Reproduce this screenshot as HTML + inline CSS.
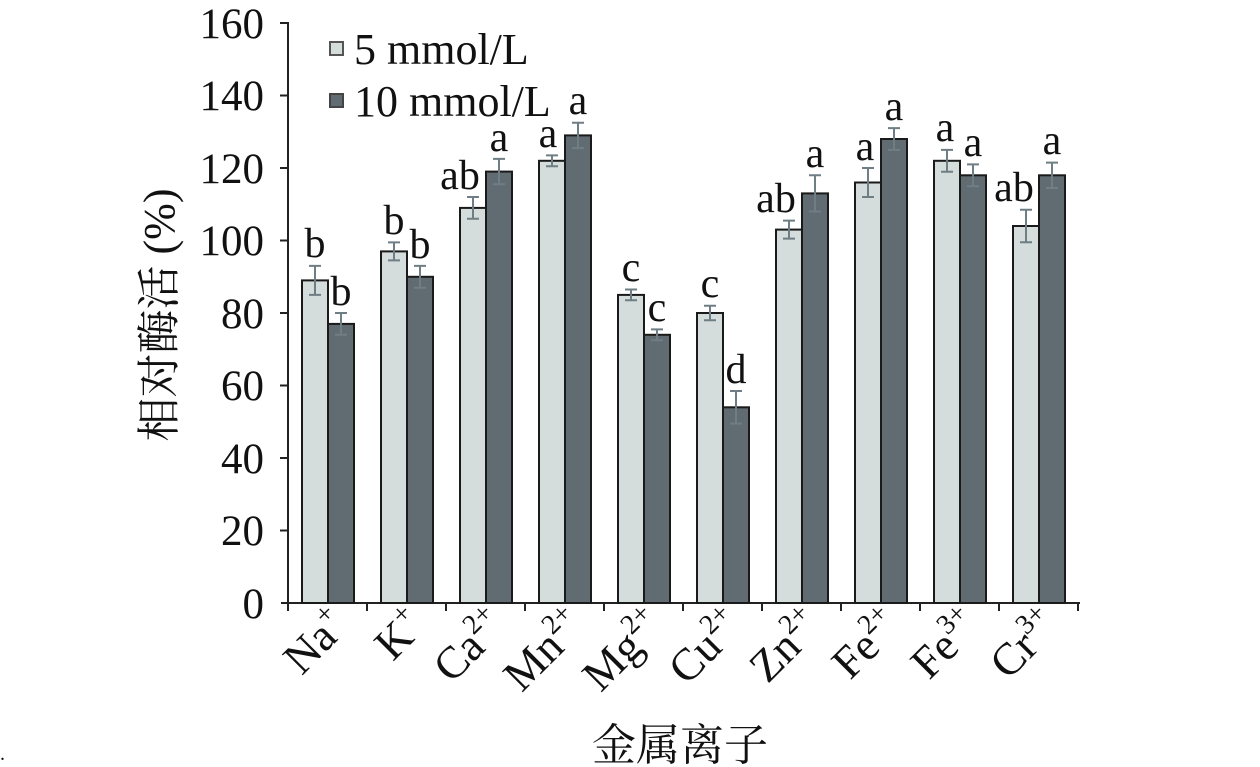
<!DOCTYPE html>
<html><head><meta charset="utf-8"><style>
html,body{margin:0;padding:0;background:#fff;}
svg{display:block;}
text{font-family:"Liberation Serif","Noto Serif CJK SC",serif;fill:#111;}
.cj{font-family:"Liberation Serif","Noto Serif CJK SC","Noto Sans CJK SC",serif;}
</style></head><body>
<svg width="1260" height="767" viewBox="0 0 1260 767" xmlns="http://www.w3.org/2000/svg">
<g stroke="#222" stroke-width="2" fill="none">
<line x1="288" y1="22" x2="288" y2="604"/>
<line x1="281" y1="603" x2="1080" y2="603"/>
<line x1="280" y1="23" x2="288" y2="23"/>
<line x1="280" y1="95.5" x2="288" y2="95.5"/>
<line x1="280" y1="168" x2="288" y2="168"/>
<line x1="280" y1="240.5" x2="288" y2="240.5"/>
<line x1="280" y1="313" x2="288" y2="313"/>
<line x1="280" y1="385.5" x2="288" y2="385.5"/>
<line x1="280" y1="458" x2="288" y2="458"/>
<line x1="280" y1="530.5" x2="288" y2="530.5"/>
<line x1="288" y1="603" x2="288" y2="611"/>
<line x1="367" y1="603" x2="367" y2="611"/>
<line x1="446" y1="603" x2="446" y2="611"/>
<line x1="525" y1="603" x2="525" y2="611"/>
<line x1="604" y1="603" x2="604" y2="611"/>
<line x1="683" y1="603" x2="683" y2="611"/>
<line x1="762" y1="603" x2="762" y2="611"/>
<line x1="841" y1="603" x2="841" y2="611"/>
<line x1="920" y1="603" x2="920" y2="611"/>
<line x1="999" y1="603" x2="999" y2="611"/>
<line x1="1078" y1="603" x2="1078" y2="611"/>
</g>
<g font-size="43" text-anchor="end">
<text x="264" y="38">160</text>
<text x="264" y="110">140</text>
<text x="264" y="183">120</text>
<text x="264" y="255">100</text>
<text x="264" y="328">80</text>
<text x="264" y="400">60</text>
<text x="264" y="473">40</text>
<text x="264" y="545">20</text>
<text x="264" y="618">0</text>
</g>
<g stroke="#1a1a1a" stroke-width="2">
<rect x="302" y="280.4" width="26" height="322.6" fill="#d4dcdc"/><rect x="328" y="323.9" width="26" height="279.1" fill="#606b72"/>
<rect x="381" y="251.4" width="26" height="351.6" fill="#d4dcdc"/><rect x="407" y="276.8" width="26" height="326.2" fill="#606b72"/>
<rect x="460" y="207.9" width="26" height="395.1" fill="#d4dcdc"/><rect x="486" y="171.6" width="26" height="431.4" fill="#606b72"/>
<rect x="539" y="160.8" width="26" height="442.2" fill="#d4dcdc"/><rect x="565" y="135.4" width="26" height="467.6" fill="#606b72"/>
<rect x="618" y="294.9" width="26" height="308.1" fill="#d4dcdc"/><rect x="644" y="334.8" width="26" height="268.2" fill="#606b72"/>
<rect x="697" y="313" width="26" height="290" fill="#d4dcdc"/><rect x="723" y="407.3" width="26" height="195.7" fill="#606b72"/>
<rect x="776" y="229.6" width="26" height="373.4" fill="#d4dcdc"/><rect x="802" y="193.4" width="26" height="409.6" fill="#606b72"/>
<rect x="855" y="182.5" width="26" height="420.5" fill="#d4dcdc"/><rect x="881" y="139" width="26" height="464" fill="#606b72"/>
<rect x="934" y="160.8" width="26" height="442.2" fill="#d4dcdc"/><rect x="960" y="175.3" width="26" height="427.7" fill="#606b72"/>
<rect x="1013" y="226" width="26" height="377" fill="#d4dcdc"/><rect x="1039" y="175.3" width="26" height="427.7" fill="#606b72"/>
</g>
<g stroke="#6f7e84" stroke-width="2" fill="none">
<path d="M315 265.9V294.9M309 265.9H321M309 294.9H321"/>
<path d="M341 313V334.8M335 313H347M335 334.8H347"/>
<path d="M394 242.4V260.4M388 242.4H400M388 260.4H400"/>
<path d="M420 265.9V287.7M414 265.9H426M414 287.7H426"/>
<path d="M473 197V218.8M467 197H479M467 218.8H479"/>
<path d="M499 158.9V184.3M493 158.9H505M493 184.3H505"/>
<path d="M552 155.4V166.2M546 155.4H558M546 166.2H558"/>
<path d="M578 122.7V148.1M572 122.7H584M572 148.1H584"/>
<path d="M631 289.5V300.3M625 289.5H637M625 300.3H637"/>
<path d="M657 329.4V340.2M651 329.4H663M651 340.2H663"/>
<path d="M710 305.7V320.3M704 305.7H716M704 320.3H716"/>
<path d="M736 391V423.6M730 391H742M730 423.6H742"/>
<path d="M789 220.6V238.6M783 220.6H795M783 238.6H795"/>
<path d="M815 175.3V211.5M809 175.3H821M809 211.5H821"/>
<path d="M868 168V197M862 168H874M862 197H874"/>
<path d="M894 128.1V149.9M888 128.1H900M888 149.9H900"/>
<path d="M947 149.9V171.7M941 149.9H953M941 171.7H953"/>
<path d="M973 164.4V186.2M967 164.4H979M967 186.2H979"/>
<path d="M1026 209.7V242.3M1020 209.7H1032M1020 242.3H1032"/>
<path d="M1052 162.6V188M1046 162.6H1058M1046 188H1058"/>
</g>
<g font-size="42" text-anchor="middle">
<text x="315" y="257">b</text><text x="341" y="305">b</text>
<text x="394" y="234">b</text><text x="420" y="258">b</text>
<text x="460" y="189">ab</text><text x="499" y="151">a</text>
<text x="548" y="147">a</text><text x="578" y="114">a</text>
<text x="631" y="281">c</text><text x="657" y="321">c</text>
<text x="710" y="297">c</text><text x="736" y="383">d</text>
<text x="776" y="212">ab</text><text x="815" y="167">a</text>
<text x="865" y="160">a</text><text x="894" y="120">a</text>
<text x="945" y="141">a</text><text x="973" y="156">a</text>
<text x="1014" y="201">ab</text><text x="1052" y="154">a</text>
</g>
<rect x="330" y="42" width="13" height="13" fill="#d4dcdc" stroke="#555" stroke-width="2"/>
<rect x="330" y="94" width="13" height="13" fill="#606b72" stroke="#444" stroke-width="2"/>
<text x="354" y="64" font-size="44">5 mmol/L</text>
<text x="354" y="116" font-size="44">10 mmol/L</text>
<g font-size="45" text-anchor="end">
<text transform="translate(350,628) rotate(-45)">Na<tspan font-size="28" dy="-19">+</tspan></text>
<text transform="translate(427,628) rotate(-45)">K<tspan font-size="28" dy="-19">+</tspan></text>
<text transform="translate(508,628) rotate(-45)">Ca<tspan font-size="28" dy="-19">2+</tspan></text>
<text transform="translate(587,628) rotate(-45)">Mn<tspan font-size="28" dy="-19">2+</tspan></text>
<text transform="translate(666,628) rotate(-45)">Mg<tspan font-size="28" dy="-19">2+</tspan></text>
<text transform="translate(745,628) rotate(-45)">Cu<tspan font-size="28" dy="-19">2+</tspan></text>
<text transform="translate(824,628) rotate(-45)">Zn<tspan font-size="28" dy="-19">2+</tspan></text>
<text transform="translate(903,628) rotate(-45)">Fe<tspan font-size="28" dy="-19">2+</tspan></text>
<text transform="translate(982,628) rotate(-45)">Fe<tspan font-size="28" dy="-19">3+</tspan></text>
<text transform="translate(1061,628) rotate(-45)">Cr<tspan font-size="28" dy="-19">3+</tspan></text>
</g>
<text class="cj" x="680" y="760" font-size="44" text-anchor="middle">金属离子</text>
<text class="cj" transform="translate(174,315) rotate(-90)" font-size="44" text-anchor="middle">相对酶活 (%)</text>
<text x="0" y="760" font-size="20">.</text>
</svg>
</body></html>
